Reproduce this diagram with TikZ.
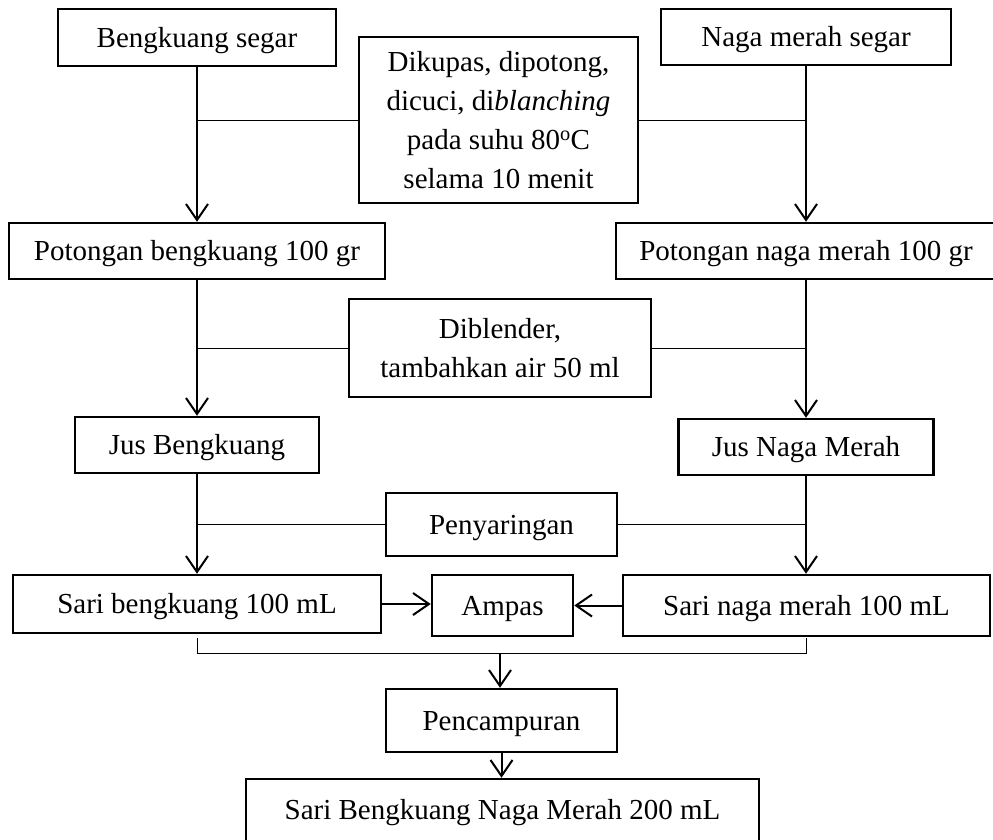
\documentclass[tikz,border=0pt]{standalone}
\usepackage{fontspec}
\setmainfont{Liberation Serif}
\usetikzlibrary{arrows.meta}
\begin{document}
\begin{tikzpicture}[x=1pt,y=-1pt,
  box/.style={draw, line width=2.5pt, inner sep=0pt, font=\fontsize{29}{39}\selectfont, align=center},
  one/.style={text height=22pt, text depth=3pt},
  flow/.style={line width=2pt, -{Straight Barb[length=16pt,width=22pt]}},
  thinline/.style={line width=1pt}]
\useasboundingbox (0,0) rectangle (993,839);
\node[box,one,minimum width=278pt,minimum height=57pt] (bs) at (197,37.5) {Bengkuang segar};
\node[box,one,minimum width=290pt,minimum height=56pt] (ns) at (806,37) {Naga merah segar};
\node[box,minimum width=279pt,minimum height=166pt] (p1) at (498.5,120) {Dikupas, dipotong,\\dicuci, di\textit{blanching}\\pada suhu 80\textsuperscript{o}C\\selama 10 menit};
\node[box,one,minimum width=376pt,minimum height=56pt] (pb) at (197,251) {Potongan bengkuang 100 gr};
\node[box,one,minimum width=380pt,minimum height=56pt] (pn) at (806,251) {Potongan naga merah 100 gr};
\node[box,minimum width=302pt,minimum height=98pt] (p2) at (500,348) {Diblender,\\tambahkan air 50 ml};
\node[box,one,minimum width=244pt,minimum height=56pt] (jb) at (197,445) {Jus Bengkuang};
\node[box,one,minimum width=255pt,minimum height=56pt] (jn) at (806,447) {Jus Naga Merah};
\node[box,one,minimum width=231pt,minimum height=63pt] (p3) at (501.5,524.5) {Penyaringan};
\node[box,one,minimum width=368pt,minimum height=58pt] (sb) at (197,604) {Sari bengkuang 100 mL};
\node[box,one,minimum width=141pt,minimum height=61pt] (am) at (502.5,605.5) {Ampas};
\node[box,one,minimum width=367pt,minimum height=61pt] (sn) at (806.5,605.5) {Sari naga merah 100 mL};
\node[box,one,minimum width=231pt,minimum height=63pt] (pc) at (501.5,720.5) {Pencampuran};
\node[box,one,minimum width=513pt,minimum height=62pt] (fi) at (502.5,810) {Sari Bengkuang Naga Merah 200 mL};

\draw[flow] (bs.south) -- (bs.south |- pb.north);
\draw[thinline] (p1.west) -- (p1.west -| bs.south);
\draw[thinline] (p1.east) -- (p1.east -| ns.south);
\draw[flow] (ns.south) -- (ns.south |- pn.north);
\draw[flow] (pb.south) -- (pb.south |- jb.north);
\draw[thinline] (p2.west) -- (p2.west -| pb.south);
\draw[thinline] (p2.east) -- (p2.east -| pn.south);
\draw[flow] (pn.south) -- (pn.south |- jn.north);
\draw[flow] (jb.south) -- (jb.south |- sb.north);
\draw[flow] (jn.south) -- (jn.south |- sn.north);
\draw[thinline] (p3.west) -- (p3.west -| jb.south);
\draw[thinline] (p3.east) -- (p3.east -| jn.south);
\draw[flow] (sb.east) -- (sb.east -| am.west);
\draw[flow] (sn.west) -- (am.east);
\coordinate (bl) at (197,638);
\coordinate (blc) at (197,653);
\coordinate (brc) at (806,653);
\coordinate (br) at (806,638);
\coordinate (bm) at (500,653);
\draw[thinline] (bl) -- (blc) -- (brc) -- (br);
\draw[flow] (bm) -- (bm |- pc.north);
\draw[flow] (pc.south) -- (pc.south |- fi.north);
\end{tikzpicture}
\end{document}
